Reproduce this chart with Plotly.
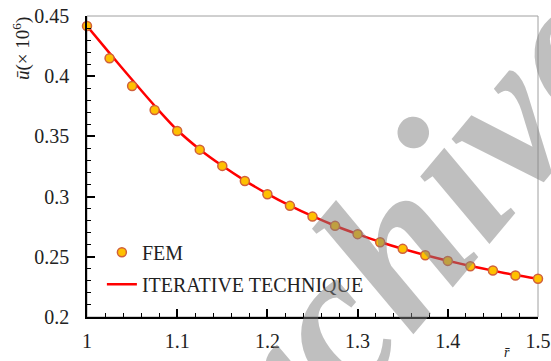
import plotly.graph_objects as go

# Data
r_vals = [1.0, 1.025, 1.05, 1.075, 1.1, 1.125, 1.15, 1.175, 1.2, 1.225, 1.25,
          1.275, 1.3, 1.325, 1.35, 1.375, 1.4, 1.425, 1.45, 1.475, 1.5]
fem_vals = [0.4417, 0.4149, 0.3919, 0.3719, 0.3545, 0.3390, 0.3255, 0.3130, 0.3020,
            0.2923, 0.2834, 0.2757, 0.2688, 0.2621, 0.2566, 0.2513, 0.2466, 0.2422,
            0.2386, 0.2345, 0.2317]
iter_vals = [0.4417, 0.4192, 0.3970, 0.3754, 0.3553, 0.3392, 0.3256, 0.3133, 0.3023,
             0.2925, 0.2837, 0.2758, 0.2688, 0.2623, 0.2566, 0.2514, 0.2467, 0.2424,
             0.2385, 0.2348, 0.2317]
x_ticks = [1, 1.1, 1.2, 1.3, 1.4, 1.5]
y_ticks = [0.2, 0.25, 0.3, 0.35, 0.4, 0.45]

FONT = "Times New Roman, Liberation Serif, serif"

fig = go.Figure()
fig.add_trace(go.Scatter(
    x=r_vals, y=iter_vals, mode="lines", name="ITERATIVE TECHNIQUE",
    line=dict(color="#ff0000", width=2.5, shape="spline", smoothing=0.6),
    legendgroup="b", legendrank=2, cliponaxis=False))
fig.add_trace(go.Scatter(
    x=r_vals, y=fem_vals, mode="markers", name="FEM",
    marker=dict(color="#ffc000", size=9, line=dict(color="#d0603a", width=1.5)),
    legendgroup="a", legendrank=1, cliponaxis=False))

fig.update_layout(
    width=551, height=361,
    margin=dict(l=87, r=13, t=16, b=44, autoexpand=False),
    paper_bgcolor="white", plot_bgcolor="white",
    font=dict(family=FONT, size=20, color="#222222"),
    showlegend=True,
    legend=dict(x=0.033, y=0.28, xanchor="left", yanchor="top",
                bgcolor="rgba(0,0,0,0)", font=dict(size=20, family=FONT, color="#222222"),
                traceorder="grouped", tracegroupgap=3),
    shapes=[dict(type="rect", xref="paper", yref="paper", x0=0, x1=1, y0=0, y1=1,
                 line=dict(color="#a0a0a0", width=1), layer="below")],
    annotations=[
        dict(text="<b><i>Archive</i></b>", xref="paper", yref="paper",
             x=(368 - 87) / 451, y=(317 - 278) / 301, xanchor="center", yanchor="middle",
             textangle=-50, showarrow=False,
             font=dict(family=FONT, size=210, color="rgba(128,128,128,0.5)")),
        dict(text="<i>ū</i>(× 10<sup>6</sup>)", xref="paper", yref="paper",
             x=(21 - 87) / 451, y=(317 - 49) / 301, xanchor="center", yanchor="middle",
             textangle=-90, showarrow=False,
             font=dict(family=FONT, size=19, color="#222222")),
        dict(text="<i>r̄</i>", xref="paper", yref="paper",
             x=(507 - 87) / 451, y=(317 - 352) / 301, xanchor="center", yanchor="middle",
             showarrow=False, font=dict(family=FONT, size=14, color="#222222")),
    ],
)

fig.update_xaxes(range=[1, 1.5], tickvals=x_ticks, ticktext=[f"{v:g}" for v in x_ticks],
                 ticks="inside", ticklen=8, tickwidth=1.5, tickcolor="black",
                 showline=True, linecolor="black", linewidth=1.5, showgrid=False,
                 zeroline=False, ticklabelstandoff=5,
                 minor=dict(dtick=0.02, ticks="inside", ticklen=4, tickwidth=1.2,
                            tickcolor="black", showgrid=False))
fig.update_yaxes(range=[0.2, 0.45], tickvals=y_ticks, ticktext=[f"{v:g}" for v in y_ticks],
                 ticks="inside", ticklen=8, tickwidth=1.5, tickcolor="black",
                 showline=True, linecolor="black", linewidth=1.5, showgrid=False,
                 zeroline=False, ticklabelstandoff=12,
                 minor=dict(dtick=0.01, ticks="inside", ticklen=4, tickwidth=1.2,
                            tickcolor="black", showgrid=False))

fig.write_html("out.html", config={"displayModeBar": False},
               post_script="document.body.style.margin='0px';document.body.style.overflow='hidden';")
